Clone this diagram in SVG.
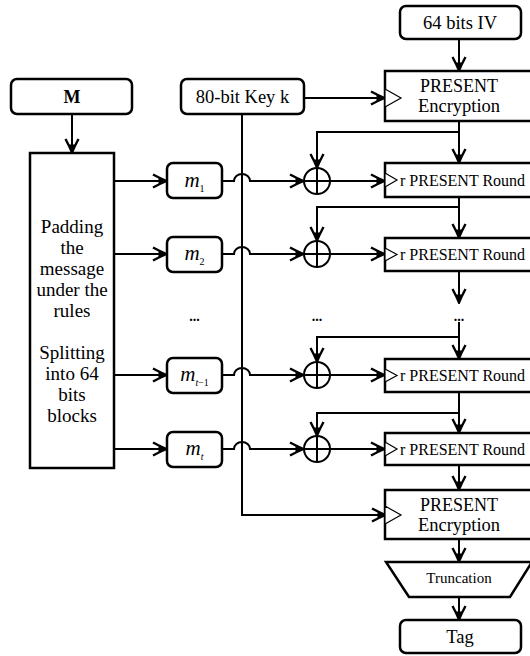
<svg xmlns="http://www.w3.org/2000/svg" width="530" height="656" viewBox="0 0 530 656">
<defs>
<marker id="arr" viewBox="0 0 16 16" refX="15.5" refY="8" markerWidth="16" markerHeight="16" markerUnits="userSpaceOnUse" orient="auto">
<path d="M1.5,1.5 Q9,5.5 15,8 Q9,10.5 1.5,14.5" fill="none" stroke="#000" stroke-width="2.4" stroke-linejoin="miter"/>
<path d="M7,5 L15.5,8 L7,11 Z" fill="#000"/>
</marker>
</defs>
<style>
.box{fill:#fff;stroke:#000;stroke-width:2.5}
.tri{fill:#fff;stroke:#000;stroke-width:1.2}
.ln{fill:none;stroke:#000;stroke-width:2}
.a{fill:none;stroke:#000;stroke-width:2;marker-end:url(#arr)}
.t{font-family:"Liberation Serif","Times New Roman",serif;fill:#000;text-anchor:middle}
.xor{fill:#fff;stroke:#000;stroke-width:2}
</style>
<g id="connectors">
<path class="a" d="M72,114 V153"/>
<path class="a" d="M304,98 H385"/>
<path class="a" d="M459,39 V71"/>
<path class="a" d="M242,114 V515 H386"/>
<path class="a" d="M114,181 H167"/>
<path class="a" d="M114,254 H167"/>
<path class="a" d="M114,375 H167"/>
<path class="a" d="M114,449 H167"/>
<path class="a" d="M222,181 H234 A8,7 0 0 1 250,181 H304"/>
<path class="a" d="M222,254 H234 A8,7 0 0 1 250,254 H304"/>
<path class="a" d="M222,375 H234 A8,7 0 0 1 250,375 H304"/>
<path class="a" d="M222,449 H234 A8,7 0 0 1 250,449 H304"/>
<path class="a" d="M330,181 H385"/>
<path class="a" d="M330,254 H385"/>
<path class="a" d="M330,375 H385"/>
<path class="a" d="M330,449 H385"/>
<path class="a" d="M459,121 V163"/>
<path class="a" d="M459,132 H317 V168"/>
<path class="a" d="M459,197 V238"/>
<path class="a" d="M459,207 H317 V241"/>
<path class="a" d="M459,271 V303"/>
<path class="a" d="M459,322 V359"/>
<path class="a" d="M459,337 H317 V362"/>
<path class="a" d="M459,392 V433"/>
<path class="a" d="M459,413 H317 V436"/>
<path class="a" d="M459,465 V490"/>
<path class="a" d="M459,539 V562"/>
<path class="a" d="M459,597 V620"/>
</g>
<g id="M"><rect class="box" x="11" y="79" width="121" height="35" rx="6"/><text class="t" x="72" y="103" font-size="18" font-weight="bold">M</text></g>
<g id="key"><rect class="box" x="181" y="79" width="123" height="35" rx="6"/><text class="t" x="242.5" y="103" font-size="18.5">80-bit Key k</text></g>
<g id="iv"><rect class="box" x="400" y="6" width="121" height="33" rx="6"/><text class="t" x="460" y="29" font-size="18.5">64 bits IV</text></g>
<g id="enc1"><rect class="box" x="385" y="71" width="148" height="50"/><polygon class="tri" points="385,89 401,98 385,107"/><text class="t" x="459" y="92" font-size="18">PRESENT</text><text class="t" x="459" y="112" font-size="18.5">Encryption</text></g>
<g id="padding"><rect class="box" x="30" y="153" width="84" height="315"/>
<text class="t" font-size="19"><tspan x="72" y="233">Padding</tspan><tspan x="72" y="254">the</tspan><tspan x="72" y="275">message</tspan><tspan x="72" y="296">under the</tspan><tspan x="72" y="317">rules</tspan><tspan x="72" y="359">Splitting</tspan><tspan x="72" y="380">into 64</tspan><tspan x="72" y="401">bits</tspan><tspan x="72" y="422">blocks</tspan></text></g>
<g id="m1"><rect class="box" x="167" y="163" width="55" height="35" rx="6"/><text class="t" x="194.5" y="187" font-size="21"><tspan font-style="italic">m</tspan><tspan font-size="10" dy="5">1</tspan></text></g>
<g id="m2"><rect class="box" x="167" y="237" width="55" height="35" rx="6"/><text class="t" x="194.5" y="260" font-size="21"><tspan font-style="italic">m</tspan><tspan font-size="10" dy="5">2</tspan></text></g>
<g id="mt1"><rect class="box" x="167" y="358" width="55" height="35" rx="6"/><text class="t" x="194.5" y="381" font-size="21"><tspan font-style="italic">m</tspan><tspan font-size="10" dy="5"><tspan font-style="italic">t</tspan>−1</tspan></text></g>
<g id="mt"><rect class="box" x="167" y="432" width="55" height="35" rx="6"/><text class="t" x="194.5" y="455" font-size="21"><tspan font-style="italic">m</tspan><tspan font-size="10" dy="5" font-style="italic">t</tspan></text></g>
<g id="dots"><text class="t" x="194.5" y="321" font-size="14" font-weight="bold">...</text><text class="t" x="317" y="321" font-size="14" font-weight="bold">...</text><text class="t" x="459" y="321" font-size="14" font-weight="bold">...</text></g>
<g id="xor1"><circle class="xor" cx="317" cy="181" r="13"/><path class="ln" d="M304,181 H330 M317,168 V194"/></g>
<g id="xor2"><circle class="xor" cx="317" cy="254" r="13"/><path class="ln" d="M304,254 H330 M317,241 V267"/></g>
<g id="xor3"><circle class="xor" cx="317" cy="375" r="13"/><path class="ln" d="M304,375 H330 M317,362 V388"/></g>
<g id="xor4"><circle class="xor" cx="317" cy="449" r="13"/><path class="ln" d="M304,449 H330 M317,436 V462"/></g>
<g id="round1"><rect class="box" x="385" y="163" width="148" height="34"/><polygon class="tri" points="385,173 397,180 385,187"/><text x="400" y="185.5" font-size="16" font-family="Liberation Serif, serif">r PRESENT Round</text></g>
<g id="round2"><rect class="box" x="385" y="238" width="148" height="33"/><polygon class="tri" points="385,248 397,254.5 385,261"/><text x="400" y="260" font-size="16" font-family="Liberation Serif, serif">r PRESENT Round</text></g>
<g id="round3"><rect class="box" x="385" y="359" width="148" height="33"/><polygon class="tri" points="385,369 397,375.5 385,382"/><text x="400" y="381" font-size="16" font-family="Liberation Serif, serif">r PRESENT Round</text></g>
<g id="round4"><rect class="box" x="385" y="433" width="148" height="32"/><polygon class="tri" points="385,442 397,449 385,456"/><text x="400" y="454.5" font-size="16" font-family="Liberation Serif, serif">r PRESENT Round</text></g>
<g id="enc2"><rect class="box" x="385" y="490" width="148" height="49"/><polygon class="tri" points="385,506 401,515 385,524"/><text class="t" x="459" y="511" font-size="18">PRESENT</text><text class="t" x="459" y="531" font-size="18.5">Encryption</text></g>
<g id="trunc"><polygon class="box" points="386,562 532,562 510,597 409,597"/><text class="t" x="459" y="583" font-size="15">Truncation</text></g>
<g id="tag"><rect class="box" x="400" y="620" width="121" height="33" rx="6"/><text class="t" x="460" y="643" font-size="18.5">Tag</text></g>
</svg>
